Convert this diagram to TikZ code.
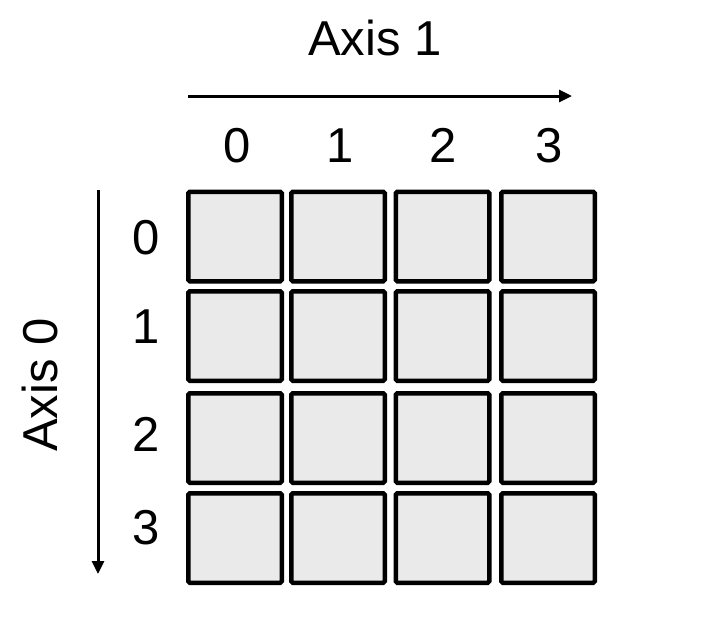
\documentclass[tikz,border=0pt]{standalone}
\usepackage{fontspec}
\setmainfont{Liberation Sans}
\usetikzlibrary{arrows.meta}
\begin{document}
\begin{tikzpicture}[x=1pt,y=-1pt,
  cell/.style={draw=black,line width=4.5pt,fill=cellgray,rounded corners=1.5pt,
    minimum width=93.5pt,minimum height=89.5pt,inner sep=0pt},
  lbl/.style={font=\fontsize{49}{58}\selectfont,inner sep=0pt,text height=35pt,text depth=0pt},
  axisarrow/.style={line width=3pt,-{Triangle[length=13pt,width=12pt]}}]
\definecolor{cellgray}{HTML}{EAEAEA}
\useasboundingbox (0,0) rectangle (713,619);
% column and row centres
\def\cx{{235,338,442.5,548}}
\def\cy{{236.5,336,438,538}}
\foreach \r in {0,1,2,3}{
  \foreach \c in {0,1,2,3}{
    \pgfmathsetmacro{\xx}{\cx[\c]}
    \pgfmathsetmacro{\yy}{\cy[\r]}
    \node[cell] (c\r\c) at (\xx,\yy) {};
  }
}
% column labels
\node[lbl] (col0) at (237,145) {0};
\node[lbl] (col1) at (340,145) {1};
\node[lbl] (col2) at (443,145) {2};
\node[lbl] (col3) at (549,145) {3};
% row labels
\node[lbl] (row0) at (146,237) {0};
\node[lbl] (row1) at (146,326) {1};
\node[lbl] (row2) at (146,434) {2};
\node[lbl] (row3) at (146,527) {3};
% axis titles
\node[lbl] (ax1) at (375,38) {Axis 1};
\node[lbl,rotate=90] (ax0) at (40,385) {Axis 0};
% arrows
\coordinate (a1s) at (188,96);
\coordinate (a1e) at (572,96);
\coordinate (a0s) at (98,190);
\coordinate (a0e) at (98,574);
\draw[axisarrow] (a1s) -- (a1e);
\draw[axisarrow] (a0s) -- (a0e);
\end{tikzpicture}
\end{document}
